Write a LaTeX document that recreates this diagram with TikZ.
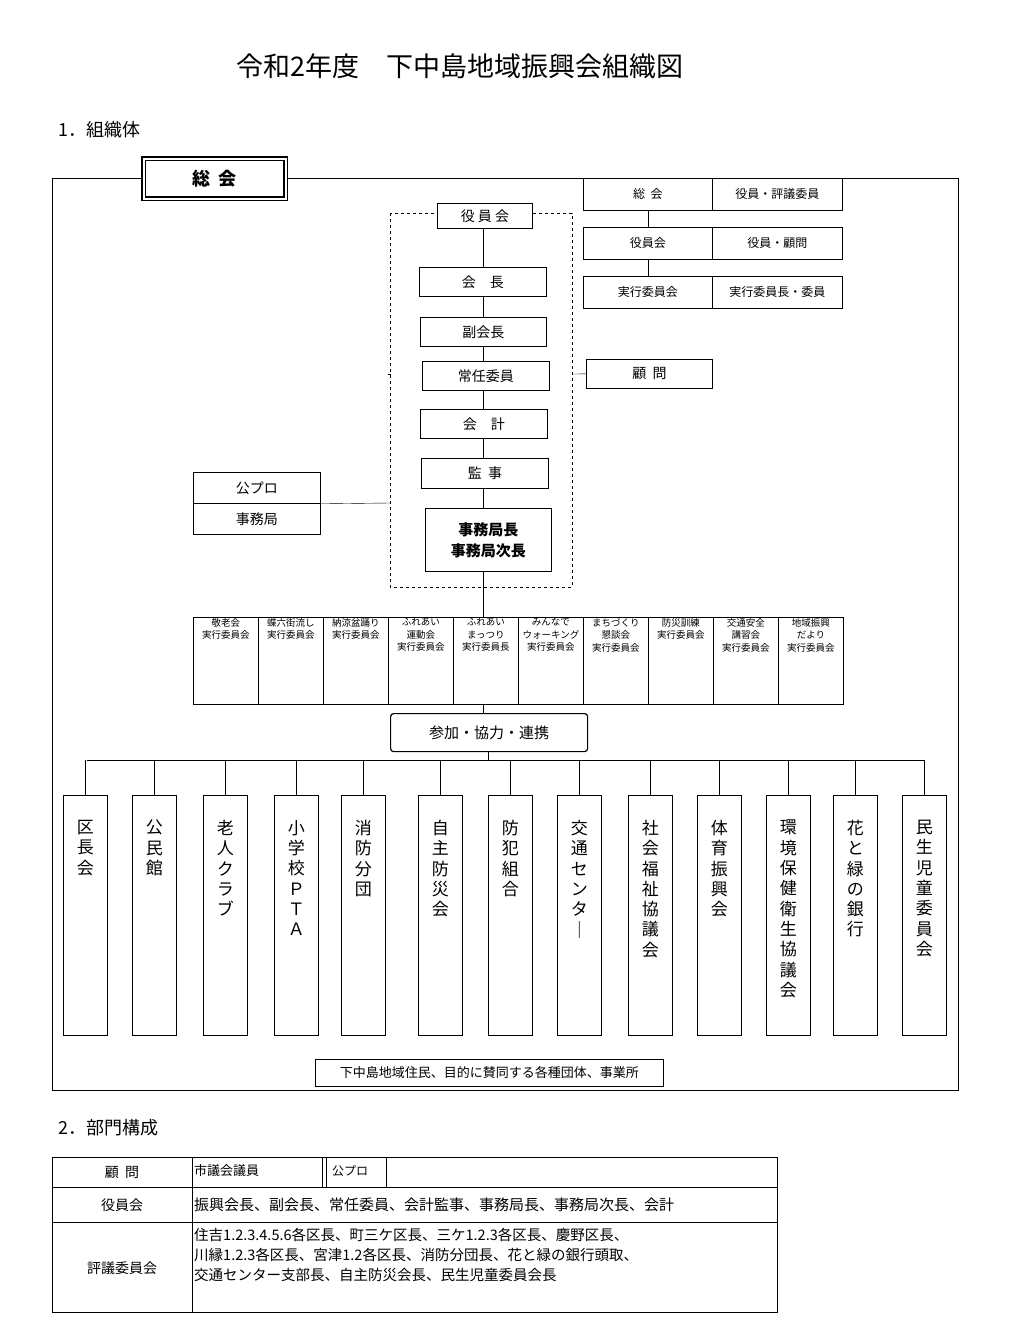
\documentclass[tikz,border=0pt]{standalone}
\usepackage{fontspec}
\setmainfont{Noto Sans CJK JP}
\begin{document}
\begin{tikzpicture}[x=1pt,y=-1pt,
 bx/.style={draw,thick,inner sep=0,anchor=north west,align=center},
 ln/.style={thin},
 every node/.style={font=\fontsize{14}{16}\selectfont}]
\useasboundingbox (0,0) rectangle (1024,1343);
\node[anchor=center,font=\fontsize{27}{29}\selectfont] (title) at (460,66) {令和2年度　下中島地域振興会組織図};
\node[anchor=west,font=\fontsize{18}{20}\selectfont] (h1) at (55,130) {1．組織体};
\draw[thick] (52,178) rectangle (958,1090);
% 総会
\node[bx,fill=white,double,double distance=2pt,very thick,minimum width=142,minimum height=40,font=\fontsize{18}{20}\selectfont\bfseries] (sokai) at (143,158) {総\ \ 会};
% top-right table
\foreach \r/\a/\b/\y in {1/総\ \ 会/役員・評議委員/178,2/役員会/役員・顧問/227,3/実行委員会/実行委員長・委員/276}{
 \node[bx,minimum width=129,minimum height=32,font=\fontsize{12}{14}\selectfont] (ta\r) at (583,\y) {\a};
 \node[bx,minimum width=130,minimum height=32,font=\fontsize{12}{14}\selectfont] (tb\r) at (712,\y) {\b};}
\draw (ta1.south) -- (ta2.north); \draw (ta2.south) -- (ta3.north);
% dashed box
\draw[dashed,thin] (390,213) rectangle (572,587);
\coordinate (dl) at (390,503); \coordinate (dr) at (572,374);
\coordinate (spine) at (483,617);
\node[bx,fill=white,minimum width=95,minimum height=25] (yakuin) at (437,203) {役\ 員\ 会};
\node[bx,minimum width=127,minimum height=29] (kaicho) at (419,267) {会\quad 長};
\node[bx,minimum width=126,minimum height=29] (fuku) at (420,317) {副会長};
\node[bx,minimum width=127,minimum height=29] (jonin) at (422,361) {常任委員};
\node[bx,minimum width=127,minimum height=29] (kaikei) at (420,409) {会\quad 計};
\node[bx,minimum width=127,minimum height=30] (kanji) at (421,458) {監\ \ 事};
\node[bx,minimum width=126,minimum height=63,font=\fontsize{15}{21}\selectfont\bfseries] (jimu) at (425,508) {事務局長\\事務局次長};
\draw (yakuin.south -| spine) -- (kaicho.north -| spine);
\draw (kaicho.south -| spine) -- (fuku.north -| spine);
\draw (fuku.south -| spine) -- (jonin.north -| spine);
\draw (jonin.south -| spine) -- (kaikei.north -| spine);
\draw (kaikei.south -| spine) -- (kanji.north -| spine);
\draw (kanji.south -| spine) -- (jimu.north -| spine);
\draw (jimu.south -| spine) -- (spine);
\node[bx,minimum width=126,minimum height=29] (komon) at (586,359) {顧\ \ 問};
\draw (dr) -- (komon.west);
\draw (388,374) -- (391,374);
\node[bx,minimum width=127,minimum height=31] (kopuro) at (193,472) {公プロ};
\node[bx,minimum width=127,minimum height=31] (jimukyoku) at (193,503) {事務局};
\draw (kopuro.south east) -- (dl);
% committees
\foreach \i/\t in {0/{敬老会\\実行委員会},1/{蝶六街流し\\実行委員会},2/{納涼盆踊り\\実行委員会},3/{ふれあい\\運動会\\実行委員会},4/{ふれあい\\まっつり\\実行委員長},5/{みんなで\\ウォーキング\\実行委員会},6/{まちづくり\\懇談会\\実行委員会},7/{防災訓練\\実行委員会},8/{交通安全\\講習会\\実行委員会},9/{地域振興\\だより\\実行委員会}}{
 \node[draw,thick,anchor=north west,minimum width=65,minimum height=87,inner sep=0] (c\i) at (193+65*\i,617) {};
 \node[anchor=north,align=center,inner sep=1,font=\fontsize{9.5}{12.5}\selectfont] (ct\i) at (c\i.north) {\t};}
\node[draw,very thick,rounded corners=3,anchor=north west,minimum width=197,minimum height=38,inner sep=0,font=\fontsize{15}{17}\selectfont] (sanka) at (390,713) {参加・協力・連携};
\draw (483,704) -- (483,713);
\coordinate (bus) at (488,760);
\draw (sanka.south -| bus) -- (bus);
\coordinate (busL) at (87,760); \coordinate (busR) at (925,760);
\draw (busL) -- (busR);
\foreach \i/\x/\t in {1/63/{区\\長\\会},2/132/{公\\民\\館},3/203/{老\\人\\ク\\ラ\\ブ},4/274/{小\\学\\校\\Ｐ\\Ｔ\\Ａ},5/341/{消\\防\\分\\団},6/418/{自\\主\\防\\災\\会},7/488/{防\\犯\\組\\合},8/557/{交\\通\\セ\\ン\\タ\\｜},9/628/{社\\会\\福\\祉\\協\\議\\会},10/697/{体\\育\\振\\興\\会},11/766/{環\\境\\保\\健\\衛\\生\\協\\議\\会},12/833/{花\\と\\緑\\の\\銀\\行},13/902/{民\\生\\児\\童\\委\\員\\会}}{
 \node[draw,thick,anchor=north west,minimum width=44,minimum height=240,inner sep=0] (v\i) at (\x,795) {};
 \node[anchor=north,align=center,inner sep=0,font=\fontsize{17}{20.3}\selectfont] (vt\i) at ([yshift=-25]v\i.north) {\t};
 \draw (v\i.north) -- (v\i.north |- busL);}
\node[bx,minimum width=348,minimum height=27,font=\fontsize{13}{15}\selectfont] (jumin) at (315,1059) {下中島地域住民、目的に賛同する各種団体、事業所};
% section 2
\node[anchor=west,font=\fontsize{18}{20}\selectfont] (h2) at (55,1128) {2．部門構成};
\draw[thick] (52,1157) rectangle (777,1312);
\draw[thick] (52,1187) -- (777,1187);
\draw[thick] (52,1222) -- (777,1222);
\draw[thick] (192,1157) -- (192,1312);
\draw[thick] (322,1157) -- (322,1187);
\draw[thick] (326,1157) -- (326,1187);
\draw[thick] (386,1157) -- (386,1187);
\node (k1) at (122,1172) {顧\ \ 問};
\node (k2) at (122,1205) {役員会};
\node (k3) at (122,1268) {評議委員会};
\node[anchor=west,inner sep=2,font=\fontsize{13}{15}\selectfont] (s1) at (192,1171) {市議会議員};
\node[anchor=west,inner sep=2,font=\fontsize{12}{14}\selectfont] (s2) at (330,1171) {公プロ};
\node[anchor=west,inner sep=2,font=\fontsize{15}{17}\selectfont] (s3) at (192,1205) {振興会長、副会長、常任委員、会計監事、事務局長、事務局次長、会計};
\node[anchor=north west,inner sep=2,align=left,font=\fontsize{14.5}{20}\selectfont] (s4) at (192,1226) {住吉1.2.3.4.5.6各区長、町三ケ区長、三ケ1.2.3各区長、慶野区長、\\川縁1.2.3各区長、宮津1.2各区長、消防分団長、花と緑の銀行頭取、\\交通センター支部長、自主防災会長、民生児童委員会長};
\end{tikzpicture}
\end{document}
